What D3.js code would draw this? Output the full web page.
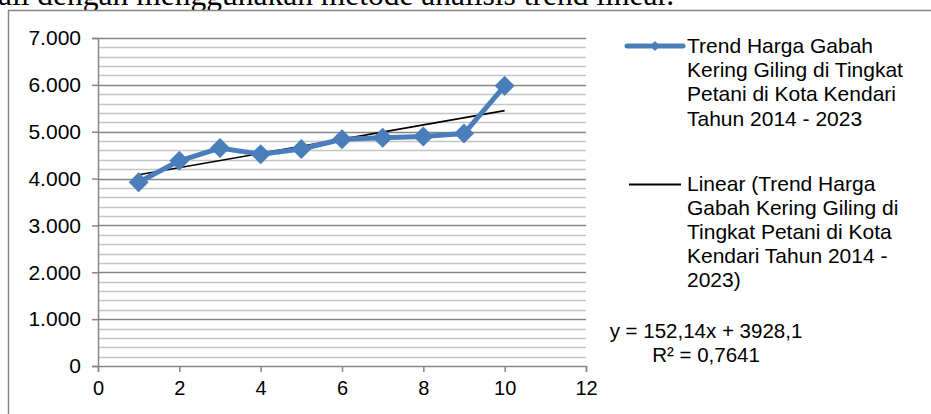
<!DOCTYPE html>
<html>
<head>
<meta charset="utf-8">
<script src="https://cdn.jsdelivr.net/npm/d3@7/dist/d3.min.js"></script>
<style>
  html, body { margin: 0; padding: 0; background: #fff; }
  svg { display: block; }
</style>
</head>
<body>
<svg id="chart" width="931" height="414"></svg>
<script>
// Harga gabah kering giling (Rp/kg), tahun ke-1 (2014) s.d. ke-10 (2023)
const years = [1, 2, 3, 4, 5, 6, 7, 8, 9, 10];
const prices = [3920, 4380, 4650, 4520, 4630, 4840, 4870, 4900, 4960, 5980];

// Garis tren linear hasil regresi
const trendSlope = 152.14;
const trendIntercept = 3928.1;
const trendR2 = 0.7641;

const xTicks = [0, 2, 4, 6, 8, 10, 12];
const yTicks = [0, 1000, 2000, 3000, 4000, 5000, 6000, 7000];
const yMinorStep = 200;

const headingText = "ali dengan menggunakan metode analisis trend linear.";
const seriesLegend = ["Trend Harga Gabah", "Kering Giling di Tingkat", "Petani di Kota Kendari", "Tahun 2014 - 2023"];
const trendLegend = ["Linear (Trend Harga", "Gabah Kering Giling di", "Tingkat Petani di Kota", "Kendari Tahun 2014 -", "2023)"];

const svg = d3.select("#chart");
const FONT = "'Liberation Sans', Arial, sans-serif";
const BLUE = "#4A7EBB";
const AXIS = "#868686";

const idLocale = d3.formatLocale({ decimal: ",", thousands: ".", grouping: [3], currency: ["Rp", ""] });
const fmtThousands = idLocale.format(",");
const fmtDecimal = v => String(v).replace(".", ",");

const x = d3.scaleLinear().domain([0, 12]).range([98, 586]);
const y = d3.scaleLinear().domain([0, 7000]).range([366, 38]);

// Teks paragraf di atas grafik
svg.append("text")
  .attr("x", -2).attr("y", 5)
  .attr("font-family", "'Liberation Serif', 'Times New Roman', serif")
  .attr("font-size", 31.5)
  .attr("fill", "#000")
  .text(headingText);

// Bingkai area grafik
svg.append("rect")
  .attr("x", 8.5).attr("y", 10.5)
  .attr("width", 960).attr("height", 460)
  .attr("fill", "#fff")
  .attr("stroke", AXIS).attr("stroke-width", 1.5);

// Garis bantu minor dan mayor
const minorVals = d3.range(yMinorStep, 7000 + 1, yMinorStep).filter(v => v % 1000 !== 0);
svg.append("g").selectAll("line").data(minorVals).join("line")
  .attr("x1", x(0)).attr("x2", x(12))
  .attr("y1", d => Math.round(y(d)) + 0.5).attr("y2", d => Math.round(y(d)) + 0.5)
  .attr("stroke", "#c4c4c4").attr("stroke-width", 1.3);

svg.append("g").selectAll("line").data(yTicks.filter(v => v > 0)).join("line")
  .attr("x1", x(0)).attr("x2", x(12))
  .attr("y1", d => Math.round(y(d)) + 0.5).attr("y2", d => Math.round(y(d)) + 0.5)
  .attr("stroke", AXIS).attr("stroke-width", 1.3);

// Sumbu Y
const yAxis = svg.append("g")
  .attr("transform", `translate(${x(0)},0)`)
  .call(d3.axisLeft(y).tickValues(yTicks).tickSize(6).tickPadding(11)
    .tickFormat(d => d === 0 ? "0" : fmtThousands(d)));
// Sumbu X
const xAxis = svg.append("g")
  .attr("transform", `translate(0,${y(0)})`)
  .call(d3.axisBottom(x).tickValues(xTicks).tickSize(6).tickPadding(8).tickFormat(d3.format("d")));

[yAxis, xAxis].forEach(g => {
  g.select(".domain").attr("stroke", AXIS).attr("stroke-width", 1.5);
  g.selectAll(".tick line").attr("stroke", AXIS).attr("stroke-width", 1.5);
  g.selectAll(".tick text").attr("font-family", FONT).attr("fill", "#000");
});
yAxis.selectAll(".tick text").attr("font-size", 21);
xAxis.selectAll(".tick text").attr("font-size", 20).attr("dy", "0.75em");

// Garis tren linear
svg.append("line")
  .attr("x1", x(years[0])).attr("y1", y(trendSlope * years[0] + trendIntercept))
  .attr("x2", x(years[years.length - 1])).attr("y2", y(trendSlope * years[years.length - 1] + trendIntercept))
  .attr("stroke", "#000").attr("stroke-width", 1.6);

// Seri harga gabah
const pts = years.map((t, i) => [t, prices[i]]);
svg.append("path")
  .datum(pts)
  .attr("fill", "none")
  .attr("stroke", BLUE).attr("stroke-width", 5)
  .attr("stroke-linejoin", "round")
  .attr("d", d3.line().x(d => x(d[0])).y(d => y(d[1])));

const diamond = r => `M0,${-r}L${r},0L0,${r}L${-r},0Z`;
svg.append("g").selectAll("path").data(pts).join("path")
  .attr("transform", d => `translate(${x(d[0])},${y(d[1])})`)
  .attr("d", diamond(10))
  .attr("fill", BLUE);

// Legenda
const leg = svg.append("g");
leg.append("line").attr("x1", 627).attr("x2", 683).attr("y1", 46).attr("y2", 46)
  .attr("stroke", BLUE).attr("stroke-width", 5).attr("stroke-linecap", "round");
leg.append("path").attr("transform", "translate(655,46)").attr("d", diamond(5)).attr("fill", BLUE);
leg.append("text").attr("font-family", FONT).attr("font-size", 21).attr("fill", "#000")
  .selectAll("tspan").data(seriesLegend).join("tspan")
  .attr("x", 687).attr("y", (d, i) => 53 + i * 24.2).text(d => d);

leg.append("line").attr("x1", 629).attr("x2", 681).attr("y1", 184.5).attr("y2", 184.5)
  .attr("stroke", "#000").attr("stroke-width", 1.8);
leg.append("text").attr("font-family", FONT).attr("font-size", 21).attr("fill", "#000")
  .selectAll("tspan").data(trendLegend).join("tspan")
  .attr("x", 687).attr("y", (d, i) => 191 + i * 24.1).text(d => d);

// Persamaan regresi
const eq = svg.append("text").attr("font-family", FONT).attr("font-size", 20.5).attr("fill", "#000")
  .attr("text-anchor", "middle");
eq.append("tspan").attr("x", 706).attr("y", 338).text(`y = ${fmtDecimal(trendSlope)}x + ${fmtDecimal(trendIntercept)}`);
eq.append("tspan").attr("x", 706).attr("y", 361.5).text(`R² = ${fmtDecimal(trendR2)}`);
</script>
</body>
</html>
